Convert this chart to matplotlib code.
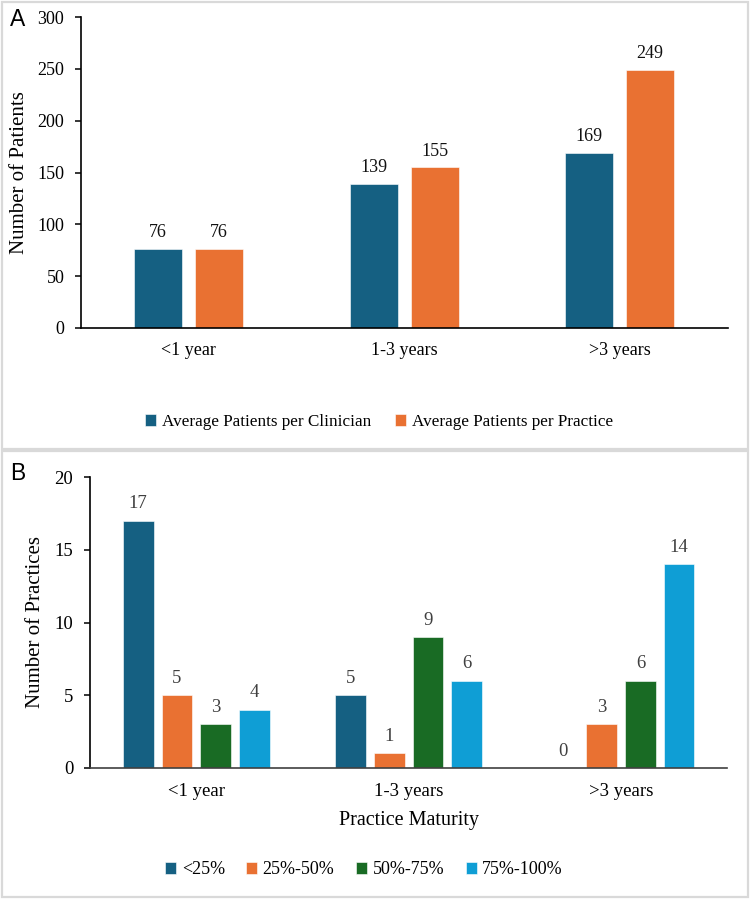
import matplotlib
matplotlib.use("Agg")
import matplotlib.pyplot as plt
from matplotlib.patches import Rectangle
import numpy as np

plt.rcParams['font.family'] = ['Liberation Serif', 'DejaVu Serif']

# ---- data ----
categories = ["<1 year", "1-3 years", ">3 years"]

seriesA_names = ["Average Patients per Clinician", "Average Patients per Practice"]
clinician = [76, 139, 169]
practice = [76, 155, 249]

seriesB_names = ["<25%", "25%-50%", "50%-75%", "75%-100%"]
lt25 = [17, 5, 0]
p25_50 = [5, 1, 3]
p50_75 = [3, 9, 6]
p75_100 = [4, 6, 14]

colors = ["#156082", "#E97132", "#196B24", "#0F9ED5"]

W, H = 750, 899
fig = plt.figure(figsize=(W / 100, H / 100), dpi=100)

def fx(px):
    return px / W

def fy(py):
    return 1 - py / H

# panel borders
for (top, bot) in [(2, 449), (451, 897)]:
    fig.patches.append(Rectangle((fx(1.5), fy(bot)), fx(746.5), (bot - top) / H,
                                 transform=fig.transFigure, fill=False,
                                 edgecolor="#d9d9d9", linewidth=1.6, zorder=0))

def style_axes(ax):
    for s in ["top", "right"]:
        ax.spines[s].set_visible(False)
    ax.spines["left"].set_color("#000000")
    ax.spines["bottom"].set_color("#404040")
    ax.spines["left"].set_linewidth(1.2)
    ax.spines["bottom"].set_linewidth(1.2)
    ax.tick_params(axis="x", length=0)
    ax.tick_params(axis="y", length=4, width=1.1, direction="out")

# ---- Panel A ----
axA = fig.add_axes([fx(81), fy(328), fx(727.5 - 81), (328 - 17) / H])
x = np.arange(len(categories))
wA = 0.223
offA = 0.1415
seriesA = [clinician, practice]
for i, vals in enumerate(seriesA):
    xs = x + (i * 2 - 1) * offA
    axA.bar(xs, vals, width=wA, color=colors[i], edgecolor="white",
            linewidth=0.4, label=seriesA_names[i])
    for xx, v in zip(xs, vals):
        axA.annotate(str(v), (xx, v), xytext=(0, 8.5), textcoords="offset points",
                     ha="center", va="baseline", fontsize=13, color="#111111")
axA.set_xlim(-0.5, 2.5)
axA.set_ylim(0, 300)
axA.set_yticks(range(0, 301, 50))
axA.set_xticks(x)
axA.set_xticklabels(categories, fontsize=13)
axA.tick_params(axis="y", labelsize=13, pad=8)
axA.tick_params(axis="x", pad=10)
axA.set_ylabel("Number of Patients", fontsize=15)
axA.yaxis.set_label_coords(-0.081, 0.5)
style_axes(axA)
axA.spines["bottom"].set_color("#000000")

hA, lA = axA.get_legend_handles_labels()
fig.legend(hA, lA, loc="center", bbox_to_anchor=(fx(379), fy(422)), ncol=2,
           frameon=False, fontsize=12.3, handlelength=0.65, handleheight=0.65,
           handletextpad=0.35, columnspacing=1.4)

fig.text(fx(17.5), fy(20), "A", fontsize=16.5, family="Liberation Sans",
         ha="center", va="center")

# ---- Panel B ----
axB = fig.add_axes([fx(90), fy(768), fx(727.3 - 90), (768 - 477) / H])
wB = 0.144
pitch = 0.182
seriesB = [lt25, p25_50, p50_75, p75_100]
for i, vals in enumerate(seriesB):
    xs = x + (i - 1.5) * pitch
    axB.bar(xs, vals, width=wB, color=colors[i], edgecolor="white",
            linewidth=0.4, label=seriesB_names[i])
    for xx, v in zip(xs, vals):
        axB.annotate(str(v), (xx, v), xytext=(0, 9), textcoords="offset points",
                     ha="center", va="baseline", fontsize=13.5, color="#404040")
axB.set_xlim(-0.5, 2.5)
axB.set_ylim(0, 20)
axB.set_yticks(range(0, 21, 5))
axB.set_xticks(x)
axB.set_xticklabels(categories, fontsize=13.5)
axB.tick_params(axis="y", labelsize=13.5, pad=8)
axB.tick_params(axis="x", pad=11)
axB.set_ylabel("Number of Practices", fontsize=15)
axB.yaxis.set_label_coords(-0.071, 0.5)
axB.set_xlabel("Practice Maturity", fontsize=14.5, labelpad=8)
style_axes(axB)

hB, lB = axB.get_legend_handles_labels()
fig.legend(hB, lB, loc="center", bbox_to_anchor=(fx(364), fy(870)), ncol=4,
           frameon=False, fontsize=13, handlelength=0.6, handleheight=0.6,
           handletextpad=0.3, columnspacing=1.2)

fig.text(fx(18), fy(473.5), "B", fontsize=16.5, family="Liberation Sans",
         ha="center", va="center")

fig.savefig("out.png", dpi=100)
